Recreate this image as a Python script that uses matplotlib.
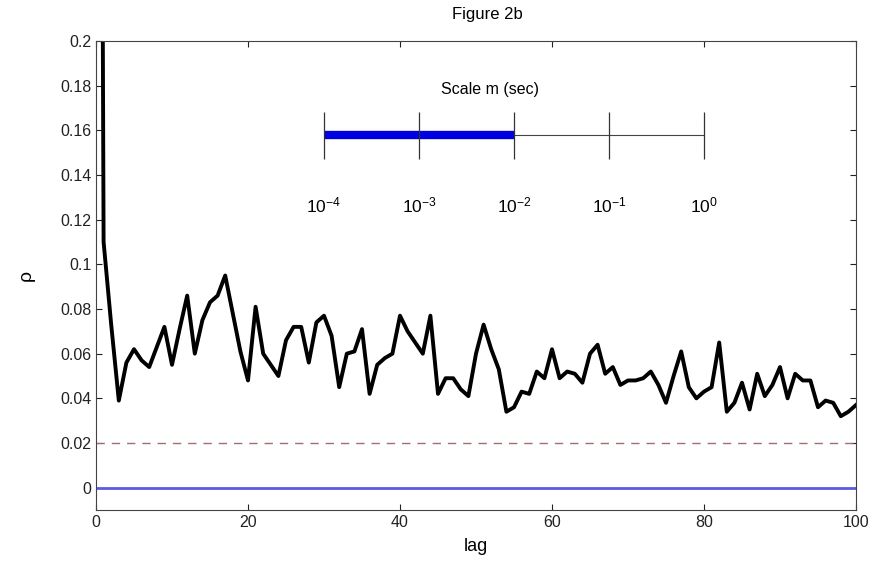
import matplotlib
matplotlib.use("Agg")
import matplotlib.pyplot as plt
import numpy as np

plt.rcParams['font.family'] = ['Liberation Sans', 'DejaVu Sans']
plt.rcParams['mathtext.fontset'] = 'custom'
plt.rcParams['mathtext.rm'] = 'Liberation Sans'
plt.rcParams['mathtext.it'] = 'Liberation Sans:italic'

# autocorrelation rho at lags 0..100
lags = np.arange(0, 101)
rho = [1.0, 0.110, 0.073, 0.039, 0.056, 0.062, 0.057, 0.054, 0.063, 0.072,
       0.055, 0.071, 0.086, 0.060, 0.075, 0.083, 0.086, 0.095, 0.078, 0.061,
       0.048, 0.081, 0.060, 0.055, 0.050, 0.066, 0.072, 0.072, 0.056, 0.074,
       0.077, 0.068, 0.045, 0.060, 0.061, 0.071, 0.042, 0.055, 0.058, 0.060,
       0.077, 0.070, 0.065, 0.060, 0.077, 0.042, 0.049, 0.049, 0.044, 0.041,
       0.060, 0.073, 0.062, 0.053, 0.034, 0.036, 0.043, 0.042, 0.052, 0.049,
       0.062, 0.049, 0.052, 0.051, 0.047, 0.060, 0.064, 0.051, 0.054, 0.046,
       0.048, 0.048, 0.049, 0.052, 0.046, 0.038, 0.050, 0.061, 0.045, 0.040,
       0.043, 0.045, 0.065, 0.034, 0.038, 0.047, 0.035, 0.051, 0.041, 0.046,
       0.054, 0.040, 0.051, 0.048, 0.048, 0.036, 0.039, 0.038, 0.032, 0.034,
       0.037]
threshold = 0.02

# inset scale bar
scales = [1e-4, 1e-3, 1e-2, 1e-1, 1e0]
scale_labels = ['$10^{-4}$', '$10^{-3}$', '$10^{-2}$', '$10^{-1}$', '$10^{0}$']
highlight = [1e-4, 1e-2]

fig = plt.figure(figsize=(8.88, 5.63), dpi=100)
ax = fig.add_axes([96/888, 53/563, 760/888, 469/563])

ax.plot(lags, [0]*len(lags), color='#5a5ae6', lw=2)
ax.plot(lags, [threshold]*len(lags), color='#a07070', lw=1, dashes=(6, 5))
ax.plot(lags, rho, color='black', lw=2.8)

ax.set_xlim(0, 100)
ax.set_ylim(-0.01, 0.2)
ax.set_xticks([0, 20, 40, 60, 80, 100])
ax.set_yticks(np.arange(0, 0.201, 0.02))
ax.set_yticklabels(['0', '0.02', '0.04', '0.06', '0.08', '0.1', '0.12',
                    '0.14', '0.16', '0.18', '0.2'])
ax.tick_params(direction='in', length=4, top=True, right=True, labelsize=11.5,
               colors='#222222')
for s in ax.spines.values():
    s.set_color('#444444')
ax.set_xlabel('lag', fontsize=13, labelpad=6)
ax.set_ylabel('ρ', fontsize=14, labelpad=18)
ax.set_title('Figure 2b', fontsize=12, x=0.515, pad=16)

# inset: scale axis
ins = fig.add_axes([324/888, 404/563, 380/888, 47/563])
ins.set_xscale('log')
ins.set_xlim(scales[0], scales[-1])
ins.set_ylim(0, 1)
ins.axis('off')
ins.plot([scales[0], scales[-1]], [0.51, 0.51], color='#444444', lw=0.8)
ins.plot(highlight, [0.51, 0.51], color='#0000e0', lw=6, solid_capstyle='butt')
ins.vlines(scales, 0, 1, color='#333333', lw=0.9, clip_on=False)
for v, lab in zip(scales, scale_labels):
    ins.text(v, -0.98, lab, ha='center', va='center', fontsize=12.5)
ins.text(10**-2.25, 1.47, 'Scale m (sec)', ha='center', va='center', fontsize=11.5)

fig.savefig('out.png', dpi=100)
